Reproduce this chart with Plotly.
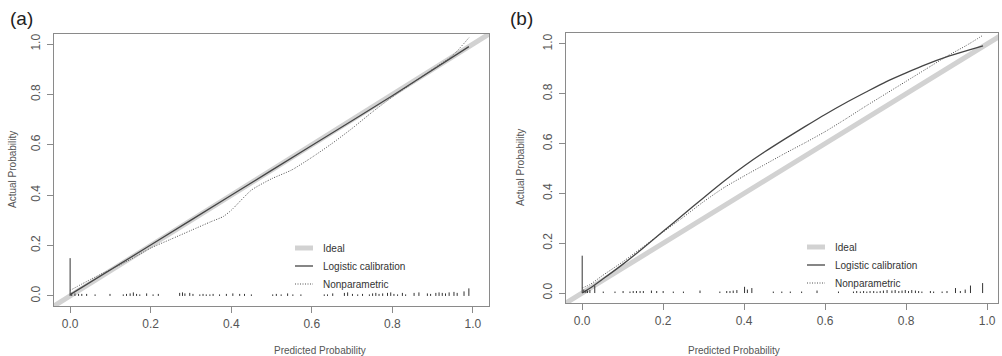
import plotly.graph_objects as go

# ---------------- data ----------------
ideal_x = [-0.1, 1.1]
ideal_y = [-0.1, 1.1]

# Panel (a)
a_logit_x = [0.0, 0.2, 0.4, 0.6, 0.8, 0.99]
a_logit_y = [0.005, 0.202, 0.4, 0.597, 0.795, 0.99]
a_np_x = [0.0, 0.05, 0.1, 0.15, 0.2, 0.25, 0.3, 0.35, 0.38, 0.4, 0.45, 0.5, 0.55,
          0.6, 0.65, 0.7, 0.75, 0.8, 0.85, 0.9, 0.95, 0.99]
a_np_y = [0.022, 0.065, 0.105, 0.145, 0.19, 0.225, 0.26, 0.295, 0.315, 0.34, 0.42,
          0.465, 0.5, 0.55, 0.605, 0.665, 0.73, 0.79, 0.845, 0.9, 0.955, 1.025]
a_rug_x = [0.0, 0.004, 0.012, 0.021, 0.029, 0.041, 0.062, 0.099, 0.132, 0.14, 0.149,
           0.157, 0.165, 0.173, 0.19, 0.206, 0.219, 0.272, 0.279, 0.285, 0.297, 0.305,
           0.322, 0.33, 0.338, 0.347, 0.355, 0.371, 0.388, 0.404, 0.421, 0.433, 0.45,
           0.503, 0.512, 0.524, 0.54, 0.553, 0.573, 0.631, 0.639, 0.652, 0.681, 0.689,
           0.701, 0.714, 0.726, 0.743, 0.751, 0.759, 0.767, 0.776, 0.788, 0.796, 0.804,
           0.813, 0.825, 0.833, 0.854, 0.866, 0.887, 0.895, 0.908, 0.916, 0.924, 0.932,
           0.941, 0.953, 0.961, 0.978, 0.99]
a_rug_h = [0.15, 0.012, 0.01, 0.008, 0.008, 0.008, 0.006, 0.008, 0.006, 0.008, 0.01,
           0.014, 0.008, 0.006, 0.01, 0.006, 0.008, 0.012, 0.014, 0.01, 0.012, 0.008,
           0.006, 0.008, 0.006, 0.006, 0.008, 0.006, 0.008, 0.01, 0.008, 0.008, 0.006,
           0.006, 0.008, 0.006, 0.01, 0.006, 0.006, 0.006, 0.006, 0.01, 0.012, 0.014,
           0.008, 0.006, 0.008, 0.006, 0.01, 0.012, 0.008, 0.01, 0.012, 0.014, 0.008,
           0.006, 0.012, 0.006, 0.012, 0.014, 0.01, 0.008, 0.012, 0.014, 0.012, 0.01,
           0.014, 0.016, 0.012, 0.018, 0.03]

# Panel (b)
b_logit_x = [0.0, 0.02, 0.05, 0.1, 0.15, 0.2, 0.25, 0.3, 0.35, 0.4, 0.45, 0.5, 0.55,
             0.6, 0.65, 0.7, 0.75, 0.8, 0.85, 0.9, 0.95, 0.99]
b_logit_y = [0.0, 0.02, 0.055, 0.115, 0.18, 0.248, 0.315, 0.383, 0.449, 0.51, 0.566,
             0.618, 0.668, 0.717, 0.763, 0.806, 0.848, 0.884, 0.918, 0.948, 0.973, 0.992]
b_np_x = [0.0, 0.02, 0.05, 0.1, 0.15, 0.2, 0.25, 0.3, 0.35, 0.4, 0.45, 0.5, 0.55,
          0.6, 0.65, 0.7, 0.75, 0.8, 0.85, 0.9, 0.95, 0.99]
b_np_y = [0.02, 0.035, 0.07, 0.125, 0.185, 0.245, 0.305, 0.367, 0.423, 0.47, 0.515,
          0.56, 0.603, 0.648, 0.698, 0.75, 0.8, 0.85, 0.9, 0.95, 0.995, 1.035]
b_rug_x = [0.0, 0.004, 0.009, 0.013, 0.019, 0.031, 0.052, 0.081, 0.101, 0.118, 0.126,
           0.134, 0.143, 0.151, 0.171, 0.184, 0.2, 0.225, 0.25, 0.291, 0.34, 0.357,
           0.365, 0.373, 0.382, 0.401, 0.408, 0.419, 0.472, 0.493, 0.514, 0.542, 0.58,
           0.633, 0.67, 0.678, 0.687, 0.695, 0.703, 0.711, 0.72, 0.728, 0.736, 0.744,
           0.753, 0.765, 0.773, 0.782, 0.79, 0.798, 0.806, 0.814, 0.823, 0.831, 0.839,
           0.86, 0.868, 0.889, 0.901, 0.922, 0.934, 0.946, 0.959, 0.989]
b_rug_h = [0.15, 0.014, 0.012, 0.01, 0.012, 0.03, 0.006, 0.006, 0.008, 0.006, 0.008,
           0.008, 0.008, 0.008, 0.01, 0.008, 0.008, 0.006, 0.006, 0.01, 0.006, 0.008,
           0.008, 0.01, 0.012, 0.025, 0.014, 0.02, 0.006, 0.006, 0.006, 0.006, 0.01,
           0.006, 0.006, 0.008, 0.006, 0.008, 0.006, 0.008, 0.008, 0.006, 0.008, 0.01,
           0.012, 0.01, 0.012, 0.008, 0.01, 0.012, 0.008, 0.012, 0.01, 0.008, 0.006,
           0.008, 0.006, 0.006, 0.008, 0.02, 0.008, 0.014, 0.03, 0.04]

tick_vals = [0.0, 0.2, 0.4, 0.6, 0.8, 1.0]
tick_text = ["0.0", "0.2", "0.4", "0.6", "0.8", "1.0"]
legend_labels = ["Ideal", "Logistic calibration", "Nonparametric"]
panel_labels = ["(a)", "(b)"]
x_title = "Predicted Probability"
y_title = "Actual Probability"

# ---------------- styles ----------------
W, H = 1002, 356
IDEAL = dict(color="#d2d2d2", width=5)
LOGIT = dict(color="#454545", width=1.3)
NONP = dict(color="#505050", width=1, dash="1px,1.5px")
RUG = dict(color="#333333", width=1)
TXT = "#555555"
FONT = "Liberation Sans, Arial, sans-serif"


def rug_segments(xs, hs):
    sx, sy = [], []
    for x, h in zip(xs, hs):
        sx += [x, x, None]
        sy += [0.0, h, None]
    return sx, sy


fig = go.Figure()

panels = [
    dict(xa="x", ya="y", lx=a_logit_x, ly=a_logit_y, nx=a_np_x, ny=a_np_y,
         rx=a_rug_x, rh=a_rug_h),
    dict(xa="x2", ya="y2", lx=b_logit_x, ly=b_logit_y, nx=b_np_x, ny=b_np_y,
         rx=b_rug_x, rh=b_rug_h),
]
for p in panels:
    fig.add_trace(go.Scatter(x=ideal_x, y=ideal_y, mode="lines", line=IDEAL,
                             xaxis=p["xa"], yaxis=p["ya"], showlegend=False,
                             hoverinfo="skip"))
    sx, sy = rug_segments(p["rx"], p["rh"])
    fig.add_trace(go.Scatter(x=sx, y=sy, mode="lines", line=RUG,
                             xaxis=p["xa"], yaxis=p["ya"], showlegend=False,
                             hoverinfo="skip"))
    fig.add_trace(go.Scatter(x=p["lx"], y=p["ly"], mode="lines", line=LOGIT,
                             line_shape="spline", line_smoothing=0.6,
                             xaxis=p["xa"], yaxis=p["ya"], showlegend=False))
    fig.add_trace(go.Scatter(x=p["nx"], y=p["ny"], mode="lines", line=NONP,
                             line_shape="spline", line_smoothing=0.6,
                             xaxis=p["xa"], yaxis=p["ya"], showlegend=False))

# panel boxes in pixels: (left, right, top, bottom)
box_a = (54, 489, 34, 306)
box_b = (566, 998, 33, 303)


def dom_x(b):
    return [b[0] / W, b[1] / W]


def dom_y(b):
    return [1 - b[3] / H, 1 - b[2] / H]


axis_common = dict(
    showgrid=False, zeroline=False, showline=True, mirror=True,
    linecolor="#8a8a8a", linewidth=1.2, ticks="outside", ticklen=6,
    tickcolor="#8a8a8a", tickwidth=1, tickvals=tick_vals, ticktext=tick_text,
    tickfont=dict(family=FONT, size=12, color=TXT),
)

fig.update_layout(
    width=W, height=H, margin=dict(l=0, r=0, t=0, b=0),
    paper_bgcolor="white", plot_bgcolor="white", showlegend=False,
    xaxis=dict(domain=dom_x(box_a), range=[-0.04, 1.04], anchor="y", **axis_common),
    yaxis=dict(domain=dom_y(box_a), range=[-0.04, 1.04], anchor="x",
               tickangle=-90, ticklabelstandoff=2, **axis_common),
    xaxis2=dict(domain=dom_x(box_b), range=[-0.04, 1.027], anchor="y2", **axis_common),
    yaxis2=dict(domain=dom_y(box_b), range=[-0.04, 1.044], anchor="x2",
                tickangle=-90, ticklabelstandoff=2, **axis_common),
)

ann = []
shapes = []
# titles and panel labels
for box, lab, ylab_x, lab_x in [(box_a, panel_labels[0], 13, 8),
                                (box_b, panel_labels[1], 520, 508)]:
    cx = (box[0] + box[1]) / 2
    cy = (box[2] + box[3]) / 2
    ann.append(dict(x=cx / W, y=1 - 350 / H, xref="paper", yref="paper",
                    yanchor="middle", text=x_title, showarrow=False,
                    font=dict(family=FONT, size=10, color=TXT)))
    ann.append(dict(x=ylab_x / W, y=1 - cy / H, xref="paper", yref="paper",
                    xanchor="center", yanchor="middle",
                    text=y_title, showarrow=False, textangle=-90,
                    font=dict(family=FONT, size=10, color=TXT)))
    ann.append(dict(x=lab_x / W, y=1 - 18 / H, xref="paper", yref="paper",
                    xanchor="left", yanchor="middle", text=lab, showarrow=False,
                    font=dict(family=FONT, size=19, color="#222222")))

# manual legends
leg_styles = [IDEAL, LOGIT, NONP]
for (sx0, sx1, tx, rows) in [(295, 313, 321, (248, 266, 284)),
                             (807, 825, 833, (247, 265, 283))]:
    for lbl, st, ry in zip(legend_labels, leg_styles, rows):
        shapes.append(dict(type="line", xref="paper", yref="paper",
                           x0=sx0 / W, x1=sx1 / W, y0=1 - ry / H, y1=1 - ry / H,
                           line=st))
        ann.append(dict(x=tx / W, y=1 - ry / H, xref="paper", yref="paper",
                        xanchor="left", yanchor="middle", text=lbl, showarrow=False,
                        font=dict(family=FONT, size=10, color="#333333")))

fig.update_layout(annotations=ann, shapes=shapes)
fig.write_html("out.html")
